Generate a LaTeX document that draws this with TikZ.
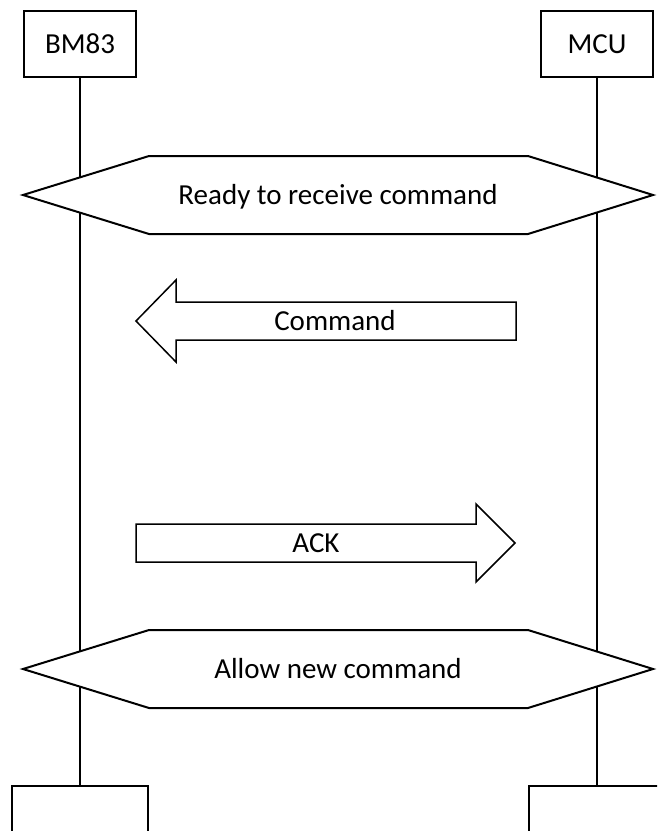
\documentclass[tikz,border=0pt]{standalone}
\usepackage{fontspec}
\setmainfont{Carlito}
\begin{document}
\begin{tikzpicture}[x=1pt,y=-1pt,font=\fontsize{29}{35}\selectfont,
	actor/.style={draw,line width=2pt,minimum width=112pt,minimum height=66pt,inner sep=0pt},
	endbox/.style={draw,line width=2pt,minimum width=136pt,minimum height=80pt,inner sep=0pt},
	state/.style={draw,line width=2pt,fill=white},
	msg/.style={draw,line width=1.5pt,fill=white},
	txt/.style={anchor=base,inner sep=0pt}]
	%%%%%%%%%%%%%%%%%%%
	%      frame      %
	%%%%%%%%%%%%%%%%%%%
		\useasboundingbox (0,0) rectangle (657,831);
		\clip (0,0) rectangle (657,831);
	%%%%%%%%%%%%%%%%%%%
	%    lifelines    %
	%%%%%%%%%%%%%%%%%%%
		\def\leftX{80}
		\def\rightX{597}
		% heads
			\node[actor] (bm) at (\leftX,44) {BM83};
			\node[actor] (mcu) at (\rightX,44) {MCU};
		% feet
			\node[endbox] (bmEnd) at (\leftX,826) {};
			\node[endbox] (mcuEnd) at (\rightX,826) {};
		% lines
			\foreach \a/\b in {bm/bmEnd,mcu/mcuEnd}
				\draw[line width=1.6pt] (\a) -- (\b);
	%%%%%%%%%%%%%%%%%%%
	%     states      %
	%%%%%%%%%%%%%%%%%%%
		\def\tipL{23}
		\def\cornerL{149}
		\def\cornerR{528}
		\def\tipR{653}
		\def\halfH{39}
		\foreach \y/\name/\msgtext in {195/ready/Ready to receive command,669/allow/Allow new command}
			{
				\draw[state] (\tipL,\y) -- (\cornerL,\y-\halfH) -- (\cornerR,\y-\halfH) -- (\tipR,\y) -- (\cornerR,\y+\halfH) -- (\cornerL,\y+\halfH) -- cycle;
				\node[txt] (\name) at (338,\y+9) {\msgtext};
			}
	%%%%%%%%%%%%%%%%%%%
	%    messages     %
	%%%%%%%%%%%%%%%%%%%
		% command: MCU to BM83
			\draw[msg] (516,302) -- (176,302) -- (176,280) -- (136,321) -- (176,362) -- (176,340) -- (516,340) -- cycle;
			\node[txt] (command) at (335,330) {Command};
		% ack: BM83 to MCU
			\draw[msg] (136,524) -- (476,524) -- (476,504) -- (515,543) -- (476,582) -- (476,562) -- (136,562) -- cycle;
			\node[txt] (ack) at (316,552) {ACK};
\end{tikzpicture}
\end{document}
